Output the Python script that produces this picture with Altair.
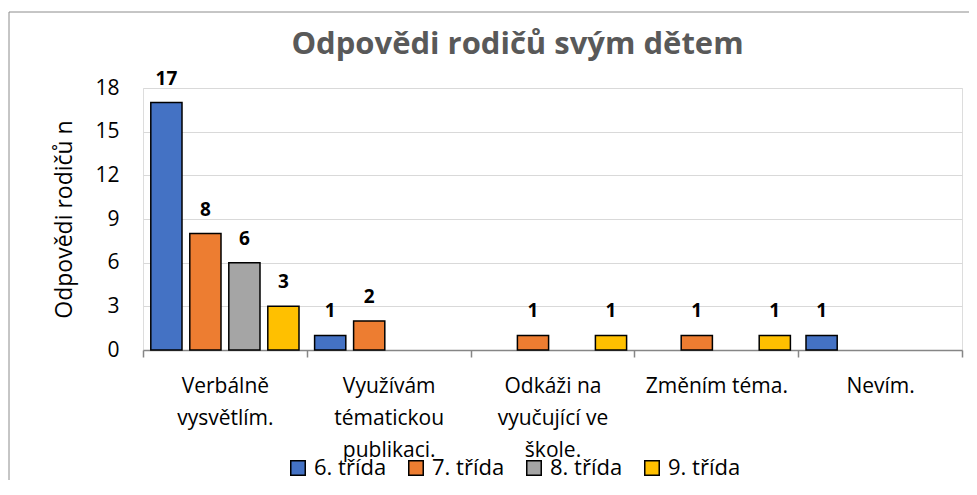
import altair as alt
import pandas as pd

label_lines = [
    ["Verbálně", "vysvětlím."],
    ["Využívám", "tématickou", "publikaci."],
    ["Odkáži na", "vyučující ve", "škole."],
    ["Změním téma."],
    ["Nevím."],
]
categories = [" ".join(l) for l in label_lines]
series = ["6. třída", "7. třída", "8. třída", "9. třída"]
colors = ["#4472C4", "#ED7D31", "#A5A5A5", "#FFC000"]
s6 = [17, 1, 0, 0, 1]
s7 = [8, 2, 1, 1, 0]
s8 = [6, 0, 0, 0, 0]
s9 = [3, 0, 1, 1, 0]
y_ticks = [0, 3, 6, 9, 12, 15, 18]

rows = []
for name, vals in zip(series, [s6, s7, s8, s9]):
    for c, v in zip(categories, vals):
        if v > 0:
            rows.append({"kategorie": c, "třída": name, "n": v})
df = pd.DataFrame(rows)

expr = "''"
for c, lines in reversed(list(zip(categories, label_lines))):
    arr = "[" + ",".join("'" + s + "'" for s in lines) + "]"
    expr = f"datum.value == '{c}' ? {arr} : {expr}"

FONT = "Open Sans"
FS = 21

x_enc = alt.X(
    "kategorie:N",
    scale=alt.Scale(domain=categories, paddingInner=0, paddingOuter=0),
    sort=categories,
    axis=alt.Axis(
        title=None, labelAngle=0, labelFontSize=FS, labelLineHeight=32,
        labelBaseline="top", labelPadding=18, labelColor="#000000",
        labelExpr=expr, tickBand="extent", tickSize=7, tickColor="#868686",
        tickWidth=1.5, domainColor="#868686", domainWidth=1.5, grid=False,
        labelFont=FONT, labelLimit=250,
    ),
)
xoff = alt.XOffset(
    "třída:N",
    scale=alt.Scale(domain=series, paddingInner=0.2, paddingOuter=0.2),
)
y_enc = alt.Y(
    "n:Q",
    scale=alt.Scale(domain=[0, 18], nice=False),
    axis=alt.Axis(
        values=y_ticks, title="Odpovědi rodičů n", titleFontSize=23,
        titleFontWeight="normal", titleColor="#000000", titlePadding=18,
        labelFontSize=FS, labelColor="#000000", labelPadding=24,
        domain=False, ticks=False, grid=True, gridColor="#D9D9D9",
        gridWidth=1.2, labelFont=FONT, titleFont=FONT,
    ),
)

bars = alt.Chart(df).mark_bar(stroke="#000000", strokeWidth=1.5).encode(
    x=x_enc,
    xOffset=xoff,
    y=y_enc,
    color=alt.Color(
        "třída:N",
        scale=alt.Scale(domain=series, range=colors),
        legend=alt.Legend(
            title=None, orient="none", direction="horizontal",
            legendX=144, legendY=369, symbolType="square", symbolSize=210,
            symbolStrokeColor="#000000", symbolStrokeWidth=1.5,
            symbolOpacity=1, labelFontSize=22, labelColor="#000000",
            labelOffset=5, columnPadding=18, labelFont=FONT,
        ),
    ),
)

labels = alt.Chart(df).mark_text(
    dy=-24, baseline="middle", fontSize=19, fontWeight="bold",
    color="#000000", font=FONT,
).encode(
    x=alt.X("kategorie:N", sort=categories),
    xOffset="třída:N",
    y="n:Q",
    text="n:Q",
)

frame = alt.Chart(pd.DataFrame({"a": [0]})).mark_rect(
    fill="transparent", stroke="#8C8C8C", strokeWidth=1
).encode(
    x=alt.value(-134), x2=alt.value(860), y=alt.value(-76), y2=alt.value(500)
)

chart = alt.layer(frame, bars, labels).properties(
    width=819,
    height=262,
    padding={"left": 135, "top": 80, "right": 7, "bottom": 130},
    autosize=alt.AutoSizeParams(type="none"),
    title=alt.TitleParams(
        "Odpovědi rodičů svým dětem", fontSize=31, fontWeight="bold",
        color="#595959", font=FONT, anchor="middle", dx=-35, offset=0, dy=49,
    ),
).configure_view(stroke=None).configure(font=FONT)

chart.save("out.html", embed_options={"renderer": "svg", "actions": False})
